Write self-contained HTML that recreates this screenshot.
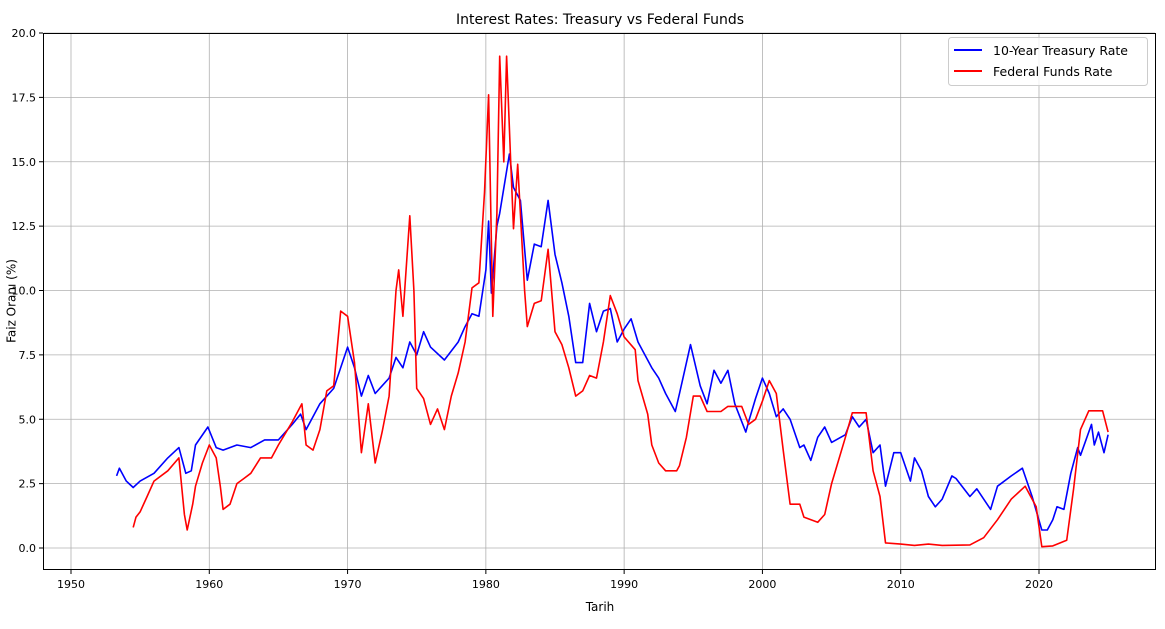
<!DOCTYPE html>
<html><head><meta charset="utf-8"><style>
body{margin:0;background:#fff;}
svg text{font-family:"DejaVu Sans","Liberation Sans",sans-serif;}
</style></head><body>
<svg id="chart" width="1165" height="624" viewBox="0 0 1165 624" xmlns="http://www.w3.org/2000/svg">
<rect width="1165" height="624" fill="#fff"/>
<g id="grid"></g>
<g id="series"></g>
<rect x="43.5" y="33.5" width="1112" height="536" fill="none" stroke="#000" stroke-width="1"/>
<g id="ticks"></g>
<text x="600" y="24" font-size="14" text-anchor="middle">Interest Rates: Treasury vs Federal Funds</text>
<text x="600" y="611" font-size="12" text-anchor="middle">Tarih</text>
<text x="12" y="301" font-size="12" text-anchor="middle" dominant-baseline="middle" transform="rotate(-90 12 301)">Faiz Oranı (%)</text>
<g>
<rect x="948.5" y="37.5" width="199" height="48" rx="3" fill="#fff" fill-opacity="0.8" stroke="#ccc"/>
<g><line x1="954" y1="50" x2="982" y2="50" stroke="#0000ff" stroke-width="2"/><text x="993" y="55" font-size="12.5">10-Year Treasury Rate</text></g>
<g><line x1="954" y1="71" x2="982" y2="71" stroke="#ff0000" stroke-width="2"/><text x="993" y="76" font-size="12.5">Federal Funds Rate</text></g>
</g>
</svg>
<script>
const treasuryDates=[1953.3,1953.5,1954,1954.5,1955,1956,1957,1957.8,1958.3,1958.7,1959,1959.9,1960.5,1961,1962,1963,1964,1965,1966,1966.6,1967,1968,1969,1970,1970.5,1971,1971.5,1972,1973,1973.5,1974,1974.5,1975,1975.5,1976,1977,1978,1978.5,1979,1979.5,1980,1980.2,1980.4,1980.8,1981,1981.7,1982,1982.5,1983,1983.5,1984,1984.5,1985,1985.5,1986,1986.5,1987,1987.5,1988,1988.5,1989,1989.5,1990,1990.5,1991,1992,1992.5,1993,1993.7,1994,1994.8,1995.5,1996,1996.5,1997,1997.5,1998,1998.8,1999,1999.5,2000,2000.5,2001,2001.5,2002,2002.7,2003,2003.5,2004,2004.5,2005,2006,2006.5,2007,2007.5,2008,2008.5,2008.9,2009.5,2010,2010.7,2011,2011.5,2012,2012.5,2013,2013.7,2014,2015,2015.5,2016.5,2017,2018,2018.8,2019.5,2020.2,2020.6,2021,2021.3,2021.8,2022.3,2022.8,2023,2023.8,2024,2024.3,2024.7,2025];
const treasuryValues=[2.8,3.1,2.6,2.35,2.6,2.9,3.5,3.9,2.9,3.0,4.0,4.7,3.9,3.8,4.0,3.9,4.2,4.2,4.8,5.2,4.6,5.6,6.2,7.8,7.0,5.9,6.7,6.0,6.6,7.4,7.0,8.0,7.5,8.4,7.8,7.3,8.0,8.6,9.1,9.0,10.8,12.7,9.9,12.5,13.0,15.3,14.0,13.5,10.4,11.8,11.7,13.5,11.4,10.3,9.0,7.2,7.2,9.5,8.4,9.2,9.3,8.0,8.5,8.9,8.0,7.0,6.6,6.0,5.3,6.0,7.9,6.3,5.6,6.9,6.4,6.9,5.6,4.5,4.9,5.8,6.6,6.0,5.1,5.4,5.0,3.9,4.0,3.4,4.3,4.7,4.1,4.4,5.1,4.7,5.0,3.7,4.0,2.4,3.7,3.7,2.6,3.5,3.0,2.0,1.6,1.9,2.8,2.7,2.0,2.3,1.5,2.4,2.8,3.1,2.0,0.7,0.7,1.1,1.6,1.5,2.9,3.9,3.6,4.8,4.0,4.5,3.7,4.4];
const fedDates=[1954.5,1954.7,1955,1955.5,1956,1957,1957.8,1958.2,1958.4,1958.8,1959,1959.5,1960,1960.5,1960.8,1961,1961.5,1962,1962.5,1963,1963.7,1964.5,1965,1966,1966.7,1967,1967.5,1968,1968.5,1969,1969.5,1970,1970.5,1971,1971.5,1972,1972.5,1973,1973.5,1973.7,1974,1974.5,1974.8,1975,1975.5,1976,1976.5,1977,1977.5,1978,1978.5,1979,1979.5,1979.9,1980.2,1980.5,1980.8,1981,1981.3,1981.5,1981.8,1982,1982.3,1982.8,1983,1983.5,1984,1984.5,1985,1985.5,1986,1986.5,1987,1987.5,1988,1988.5,1989,1989.5,1990,1990.8,1991,1991.7,1992,1992.5,1993,1993.8,1994,1994.5,1995,1995.5,1996,1997,1997.5,1998.5,1999,1999.5,2000,2000.5,2001,2001.5,2002,2002.7,2003,2004,2004.5,2005,2006,2006.5,2007.5,2008,2008.5,2008.9,2010,2011,2012,2013,2015,2016,2017,2018,2019,2019.8,2020.2,2021,2022,2022.5,2023,2023.6,2024.6,2025];
const fedValues=[0.8,1.2,1.4,2.0,2.6,3.0,3.5,1.3,0.7,1.7,2.4,3.3,4.0,3.5,2.4,1.5,1.7,2.5,2.7,2.9,3.5,3.5,4.0,4.9,5.6,4.0,3.8,4.6,6.1,6.3,9.2,9.0,7.2,3.7,5.6,3.3,4.5,5.9,10.0,10.8,9.0,12.9,10.0,6.2,5.8,4.8,5.4,4.6,5.9,6.8,8.0,10.1,10.3,13.8,17.6,9.0,13.0,19.1,15.0,19.1,15.0,12.4,14.9,10.0,8.6,9.5,9.6,11.6,8.4,7.9,7.0,5.9,6.1,6.7,6.6,8.0,9.8,9.1,8.2,7.7,6.5,5.2,4.0,3.3,3.0,3.0,3.2,4.3,5.9,5.9,5.3,5.3,5.5,5.5,4.8,5.0,5.7,6.5,6.0,3.8,1.7,1.7,1.2,1.0,1.3,2.5,4.3,5.25,5.25,3.0,2.0,0.2,0.15,0.1,0.15,0.1,0.12,0.4,1.1,1.9,2.4,1.6,0.05,0.08,0.3,2.3,4.6,5.33,5.33,4.5];
const xTickYears=[1950,1960,1970,1980,1990,2000,2010,2020];
const yTickValues=[0,2.5,5,7.5,10,12.5,15,17.5,20];
const yTickLabels=["0.0","2.5","5.0","7.5","10.0","12.5","15.0","17.5","20.0"];

const NS="http://www.w3.org/2000/svg";
function xs(y){return 71+(y-1950)*(1039-71)/70;}
function ys(v){return 548-v*(548-33)/20;}
function mk(tag,attrs,parent){const e=document.createElementNS(NS,tag);for(const k in attrs)e.setAttribute(k,attrs[k]);parent.appendChild(e);return e;}
const grid=document.getElementById('grid'),ticks=document.getElementById('ticks'),series=document.getElementById('series');
xTickYears.forEach(yr=>{const x=xs(yr);
 const g=mk('line',{x1:x,y1:34,x2:x,y2:569,stroke:'#b0b0b0','stroke-width':0.8},grid);
 
 
 mk('line',{x1:x,y1:570,x2:x,y2:574,stroke:'#000'},ticks);
 const t=mk('text',{x:x,y:588,'font-size':11,'text-anchor':'middle'},ticks);t.textContent=yr;
 
 
});
yTickValues.forEach((v,i)=>{const y=ys(v);
 const g=mk('line',{x1:44,y1:y,x2:1155,y2:y,stroke:'#b0b0b0','stroke-width':0.8},grid);
 
 
 mk('line',{x1:39,y1:y,x2:43,y2:y,stroke:'#000'},ticks);
 const t=mk('text',{x:36,y:y+4,'font-size':11,'text-anchor':'end'},ticks);t.textContent=yTickLabels[i];
 
 
});
function path(d,v){return d.map((t,i)=>(i?'L':'M')+xs(t).toFixed(1)+','+ys(v[i]).toFixed(1)).join('');}
const p1=mk('path',{d:path(treasuryDates,treasuryValues),fill:'none',stroke:'#0000ff','stroke-width':1.6,'stroke-linejoin':'round'},series);


const p2=mk('path',{d:path(fedDates,fedValues),fill:'none',stroke:'#ff0000','stroke-width':1.6,'stroke-linejoin':'round'},series);


</script>
</body></html>
